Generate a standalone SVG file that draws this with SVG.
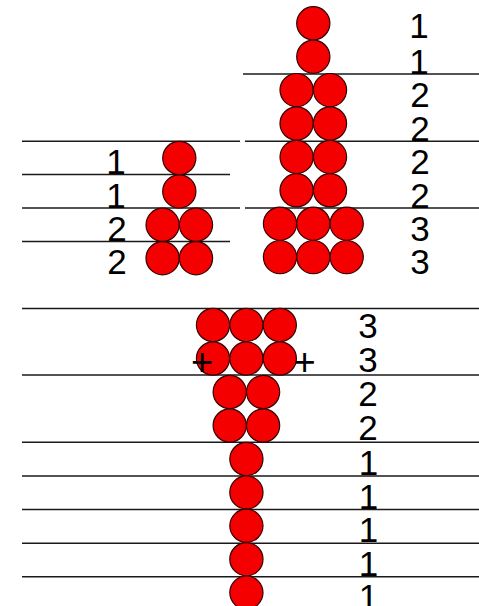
<svg xmlns="http://www.w3.org/2000/svg" width="479" height="606" viewBox="0 0 479 606">
<style>
.b{fill:#f40000;stroke:#300;stroke-width:1.2}
.l{stroke:#1a1a1a;stroke-width:1.4;fill:none}
.t{font-family:"Liberation Sans",Arial,sans-serif;font-size:35px;fill:#000;text-anchor:middle}
.p{font-family:"Liberation Sans",Arial,sans-serif;font-size:38px;fill:#000;text-anchor:middle}
</style>
<rect width="479" height="606" fill="#fff"/>
<g id="lines">
<line class="l" x1="243" y1="74" x2="479" y2="74"/>
<line class="l" x1="22" y1="141.3" x2="240" y2="141.3"/>
<line class="l" x1="245" y1="141.3" x2="479" y2="141.3"/>
<line class="l" x1="22" y1="174.5" x2="230" y2="174.5"/>
<line class="l" x1="22" y1="208" x2="240" y2="208"/>
<line class="l" x1="245" y1="208" x2="479" y2="208"/>
<line class="l" x1="22" y1="241.5" x2="230" y2="241.5"/>
<line class="l" x1="22" y1="308.5" x2="479" y2="308.5"/>
<line class="l" x1="22" y1="375" x2="479" y2="375"/>
<line class="l" x1="22" y1="442.3" x2="479" y2="442.3"/>
<line class="l" x1="22" y1="476" x2="479" y2="476"/>
<line class="l" x1="22" y1="509.5" x2="479" y2="509.5"/>
<line class="l" x1="22" y1="543.3" x2="479" y2="543.3"/>
<line class="l" x1="22" y1="576.7" x2="479" y2="576.7"/>
</g>
<g id="left-figure">
<circle class="b" cx="179.3" cy="158" r="16.6"/>
<circle class="b" cx="179.3" cy="191.4" r="16.6"/>
<circle class="b" cx="162.6" cy="224.8" r="16.6"/>
<circle class="b" cx="196" cy="224.8" r="16.6"/>
<circle class="b" cx="162.6" cy="258.2" r="16.6"/>
<circle class="b" cx="196" cy="258.2" r="16.6"/>
<text class="t" x="116" y="174">1</text>
<text class="t" x="116" y="207.5">1</text>
<text class="t" x="117" y="241">2</text>
<text class="t" x="117" y="274">2</text>
</g>
<g id="top-right-figure">
<circle class="b" cx="313.3" cy="23.3" r="16.6"/>
<circle class="b" cx="313.3" cy="56.7" r="16.6"/>
<circle class="b" cx="296.6" cy="90.1" r="16.6"/>
<circle class="b" cx="330" cy="90.1" r="16.6"/>
<circle class="b" cx="296.6" cy="123.5" r="16.6"/>
<circle class="b" cx="330" cy="123.5" r="16.6"/>
<circle class="b" cx="296.6" cy="156.9" r="16.6"/>
<circle class="b" cx="330" cy="156.9" r="16.6"/>
<circle class="b" cx="296.6" cy="190.3" r="16.6"/>
<circle class="b" cx="330" cy="190.3" r="16.6"/>
<circle class="b" cx="280" cy="223.7" r="16.6"/>
<circle class="b" cx="313.3" cy="223.7" r="16.6"/>
<circle class="b" cx="346.7" cy="223.7" r="16.6"/>
<circle class="b" cx="280" cy="257.1" r="16.6"/>
<circle class="b" cx="313.3" cy="257.1" r="16.6"/>
<circle class="b" cx="346.7" cy="257.1" r="16.6"/>
<text class="t" x="419" y="38">1</text>
<text class="t" x="419" y="73.5">1</text>
<text class="t" x="420" y="107">2</text>
<text class="t" x="420" y="140.5">2</text>
<text class="t" x="420" y="174">2</text>
<text class="t" x="420" y="207.5">2</text>
<text class="t" x="420" y="241">3</text>
<text class="t" x="420" y="274">3</text>
</g>
<g id="bottom-figure">
<circle class="b" cx="213" cy="325" r="16.6"/>
<circle class="b" cx="246.4" cy="325" r="16.6"/>
<circle class="b" cx="279.8" cy="325" r="16.6"/>
<circle class="b" cx="213" cy="358.5" r="16.6"/>
<circle class="b" cx="246.4" cy="358.5" r="16.6"/>
<circle class="b" cx="279.8" cy="358.5" r="16.6"/>
<circle class="b" cx="229.7" cy="392" r="16.6"/>
<circle class="b" cx="263.1" cy="392" r="16.6"/>
<circle class="b" cx="229.7" cy="425.5" r="16.6"/>
<circle class="b" cx="263.1" cy="425.5" r="16.6"/>
<circle class="b" cx="246.4" cy="459" r="16.6"/>
<circle class="b" cx="246.4" cy="492.4" r="16.6"/>
<circle class="b" cx="246.4" cy="525.8" r="16.6"/>
<circle class="b" cx="246.4" cy="559.2" r="16.6"/>
<circle class="b" cx="246.4" cy="592.6" r="16.6"/>
<text class="p" x="202" y="374.5">+</text>
<text class="p" x="304.5" y="374.5">+</text>
<text class="t" x="368" y="337.5">3</text>
<text class="t" x="368" y="371.5">3</text>
<text class="t" x="368" y="406">2</text>
<text class="t" x="368" y="440">2</text>
<text class="t" x="368.5" y="475">1</text>
<text class="t" x="368.5" y="508.5">1</text>
<text class="t" x="368.5" y="542">1</text>
<text class="t" x="368.5" y="575.5">1</text>
<text class="t" x="368.5" y="609">1</text>
</g>
</svg>
